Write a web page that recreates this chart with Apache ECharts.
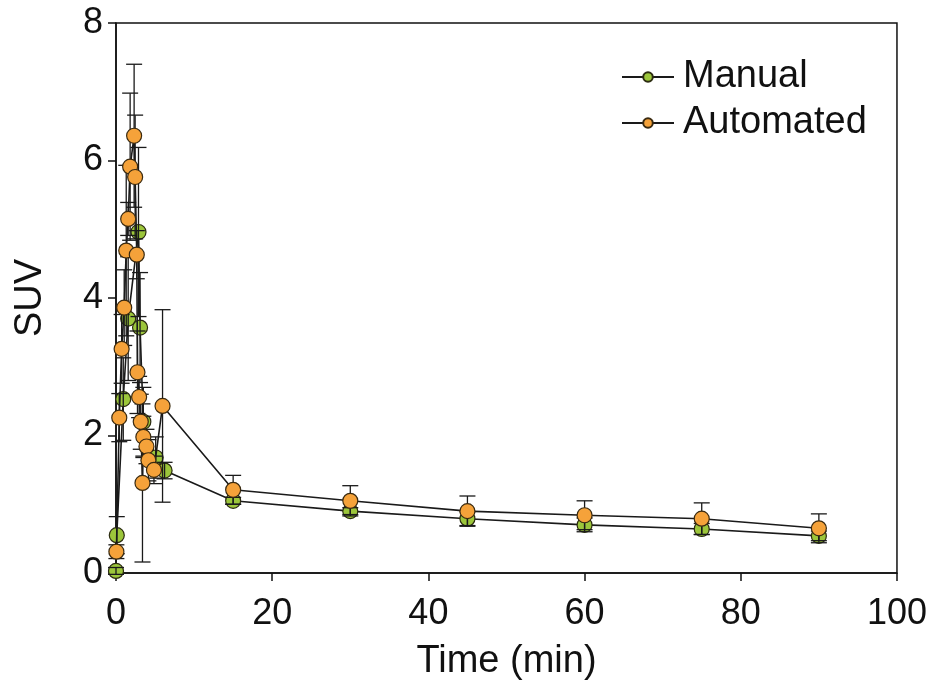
<!DOCTYPE html>
<html>
<head>
<meta charset="utf-8">
<script src="https://cdn.jsdelivr.net/npm/echarts@6/dist/echarts.min.js"></script>
<style>
  html, body { margin: 0; padding: 0; background: #fff; }
  #chart { width: 930px; height: 688px; }
</style>
</head>
<body>
<div id="chart"></div>
<script>
// Time-activity curves, SUV vs time (mean ± SD)
const manualTime = [0, 0.1, 0.93, 1.56, 2.88, 3.08, 3.5, 5.08, 6.22, 15, 30, 45, 60, 75, 90];
const manualSUV  = [0.03, 0.55, 2.53, 3.70, 4.96, 3.57, 2.20, 1.68, 1.49, 1.05, 0.90, 0.79, 0.70, 0.64, 0.54];
const manualSD   = [0.05, 0.27, 0.60, 0.90, 1.23, 0.80, 0.50, 0.30, 0.12, 0.05, 0.05, 0.10, 0.10, 0.08, 0.07];

const autoTime = [0.05, 0.42, 0.72, 1.05, 1.31, 1.56, 1.81, 2.32, 2.45, 2.66, 2.75, 2.96, 3.17, 3.39, 3.5, 3.9, 4.15, 4.86, 5.96, 15, 30, 45, 60, 75, 90];
const autoSUV  = [0.31, 2.26, 3.26, 3.86, 4.69, 5.15, 5.91, 6.36, 5.76, 4.63, 2.92, 2.56, 2.20, 1.31, 1.98, 1.84, 1.64, 1.50, 2.43, 1.21, 1.05, 0.90, 0.84, 0.79, 0.65];
const autoSD   = [0.10, 0.35, 0.50, 0.55, 1.24, 0.24, 1.07, 1.04, 0.90, 0.35, 0.60, 0.30, 0.40, 1.15, 0.30, 0.25, 0.30, 0.20, 1.40, 0.21, 0.22, 0.22, 0.21, 0.23, 0.21];

const xTicks = [0, 20, 40, 60, 80, 100];
const yTicks = [0, 2, 4, 6, 8];

const FONT = 'Liberation Sans, Arial, sans-serif';
const GREEN = '#9cc63b';
const ORANGE = '#f5a23a';

const zip = (t, v) => t.map((x, i) => [x, v[i]]);
const zip3 = (t, v, e) => t.map((x, i) => [x, v[i], e[i]]);

function errorBars(api) {
  const x = api.value(0), m = api.value(1), e = api.value(2);
  const top = api.coord([x, m + e]);
  const bot = api.coord([x, m - e]);
  const hw = 8;
  const style = { stroke: '#1a1a1a', lineWidth: 1.3 };
  return {
    type: 'group',
    children: [
      { type: 'line', shape: { x1: top[0], y1: top[1], x2: bot[0], y2: bot[1] }, style },
      { type: 'line', shape: { x1: top[0] - hw, y1: top[1], x2: top[0] + hw, y2: top[1] }, style },
      { type: 'line', shape: { x1: bot[0] - hw, y1: bot[1], x2: bot[0] + hw, y2: bot[1] }, style }
    ]
  };
}

const chart = echarts.init(document.getElementById('chart'), null, { renderer: 'canvas' });
chart.setOption({
  animation: false,
  backgroundColor: '#ffffff',
  grid: { left: 116, right: 25, top: 23, bottom: 115, show: true, borderColor: '#111', borderWidth: 1.5 },
  legend: {
    data: ['Manual', 'Automated'],
    orient: 'vertical',
    left: 616,
    top: 53,
    itemWidth: 52,
    itemHeight: 12,
    itemGap: 8,
    textStyle: { fontFamily: FONT, fontSize: 38, color: '#111', padding: [0, 0, 0, 4] }
  },
  xAxis: {
    type: 'value',
    min: xTicks[0],
    max: xTicks[xTicks.length - 1],
    interval: 20,
    name: 'Time (min)',
    nameLocation: 'middle',
    nameGap: 70,
    nameTextStyle: { fontFamily: FONT, fontSize: 38, color: '#111' },
    axisLine: { lineStyle: { color: '#111', width: 1.5 } },
    axisTick: { show: true, inside: false, length: 8, lineStyle: { color: '#111', width: 1.5 } },
    axisLabel: { fontFamily: FONT, fontSize: 36, color: '#111', margin: 23 },
    splitLine: { show: false }
  },
  yAxis: {
    type: 'value',
    min: yTicks[0],
    max: yTicks[yTicks.length - 1],
    interval: 2,
    name: 'SUV',
    nameLocation: 'middle',
    nameGap: 66,
    nameTextStyle: { fontFamily: FONT, fontSize: 38, color: '#111' },
    axisLine: { show: true, lineStyle: { color: '#111', width: 1.5 } },
    axisTick: { show: true, inside: false, length: 8, lineStyle: { color: '#111', width: 1.5 } },
    axisLabel: { fontFamily: FONT, fontSize: 36, color: '#111', margin: 13 },
    splitLine: { show: false }
  },
  series: [
    {
      name: 'Manual',
      type: 'line',
      z: 2,
      data: zip(manualTime, manualSUV),
      symbol: 'circle',
      symbolSize: 15,
      lineStyle: { color: '#1a1a1a', width: 1.6 },
      itemStyle: { color: GREEN, borderColor: '#2b2b10', borderWidth: 1.2 }
    },
    {
      name: 'Manual SD',
      type: 'custom',
      z: 3,
      data: zip3(manualTime, manualSUV, manualSD),
      renderItem: (params, api) => errorBars(api)
    },
    {
      name: 'Automated SD',
      type: 'custom',
      z: 3,
      data: zip3(autoTime, autoSUV, autoSD),
      renderItem: (params, api) => errorBars(api)
    },
    {
      name: 'Automated',
      type: 'line',
      z: 4,
      data: zip(autoTime, autoSUV),
      symbol: 'circle',
      symbolSize: 15,
      lineStyle: { color: '#1a1a1a', width: 1.6 },
      itemStyle: { color: ORANGE, borderColor: '#3a2a10', borderWidth: 1.2 }
    }
  ]
});
</script>
</body>
</html>
